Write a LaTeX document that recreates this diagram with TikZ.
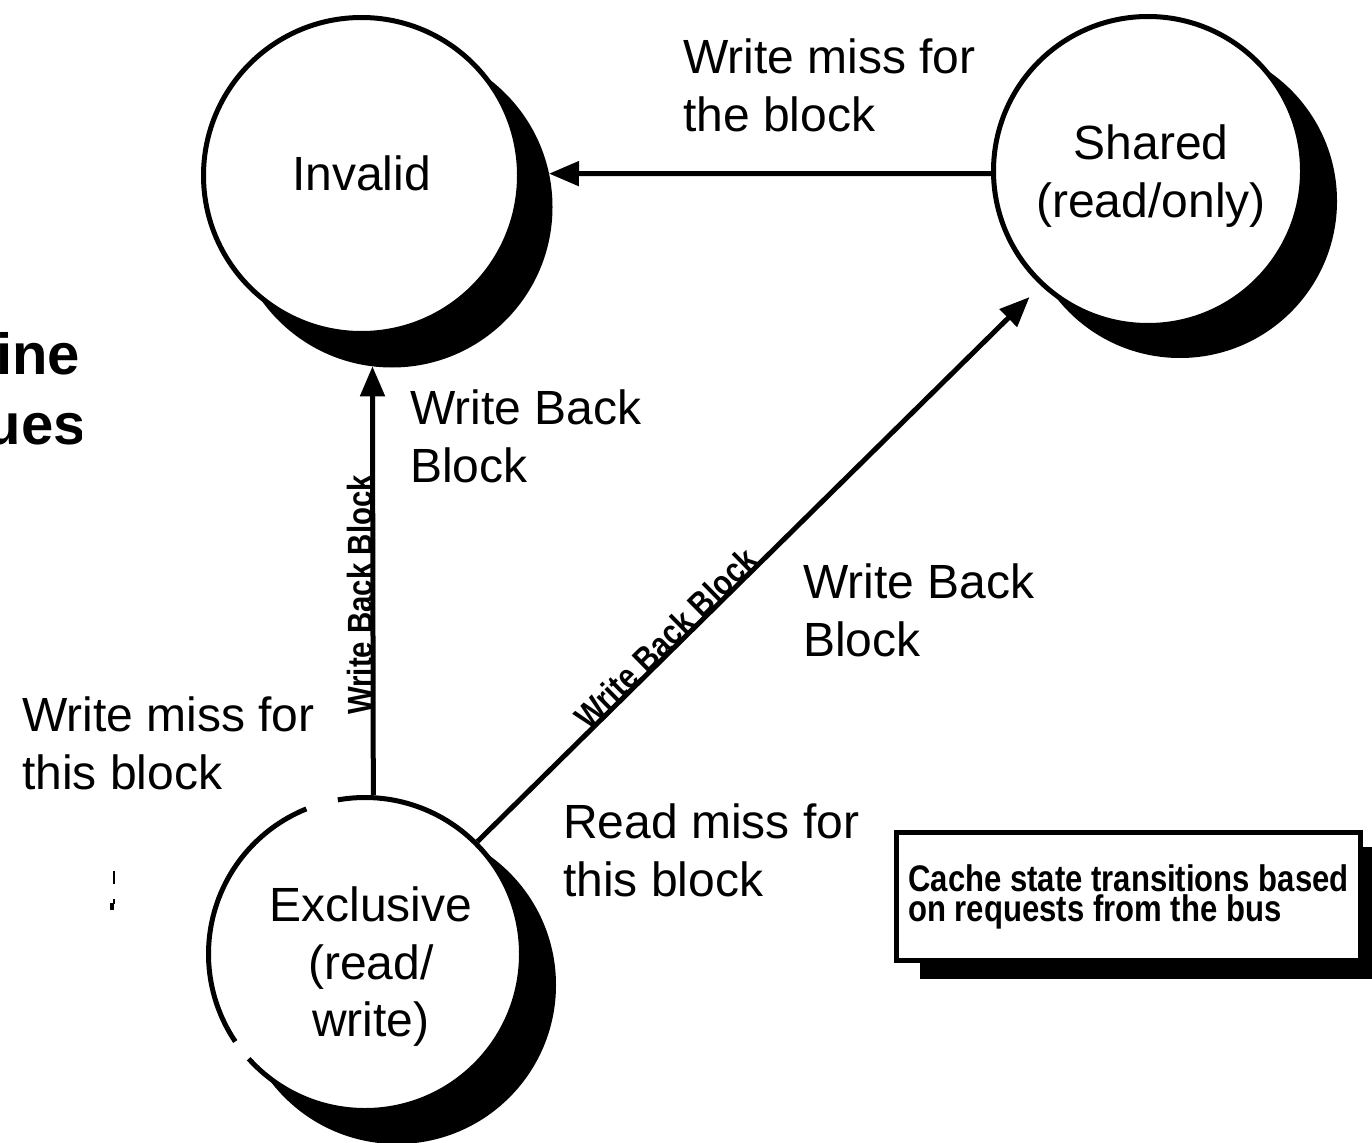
\documentclass[tikz,border=0pt]{standalone}
\usepackage{fontspec}
\setmainfont{Liberation Sans}
\newfontfamily\pixfont[FakeStretch=0.84]{Liberation Sans}
\usetikzlibrary{arrows.meta}
\begin{document}
\begin{tikzpicture}[x=1pt,y=-1pt,
  lab/.style={font=\fontsize{48}{57.5}\selectfont, inner sep=0pt, align=left, anchor=north west},
  shadowc/.style={circle, fill=black, draw=black, line width=5pt, inner sep=0pt},
  state/.style={circle, fill=white, draw=black, line width=5pt, inner sep=0pt},
  arr/.style={line width=5pt, -{Triangle[length=30pt,width=24pt]}},
  pix/.style={font=\pixfont\bfseries\fontsize{35}{30}\selectfont, inner sep=0pt},
  frag/.style={font=\bfseries\fontsize{58}{70}\selectfont, anchor=base east, inner sep=0pt}]
\useasboundingbox (0,0) rectangle (1372,1142);
\fill[white] (0,0) rectangle (1372,1142);

% cut-off title fragments at left
\begin{scope}
  \clip (0,300) rectangle (81,470);
  \node[frag] (f1) at (80,374) {ine};
  \node[frag] (f2) at (86,444) {ues};
\end{scope}
\draw[line width=1.5pt] (114,871) -- (114,884);
\draw[line width=1.2pt] (114,899) -- (114,904);
\fill (110,903) rectangle (114,910);

% states with shadows
\node[shadowc, minimum size=316pt] (invsh) at (392,207) {};
\node[state, minimum size=316pt] (inv) at (361.5,175.5) {};
\node[shadowc, minimum size=309pt] (shsh) at (1180,201) {};
\node[state, minimum size=309pt] (sh) at (1148,171) {};
\node[shadowc, minimum size=313pt] (exsh) at (397,985) {};
\node[circle, fill=white, inner sep=0pt, outer sep=2.5pt, minimum size=313pt] (ex) at (365,954) {};
\draw[line width=5pt] ([shift={(ex.center)}]-112:156.5) arc[start angle=-112, end angle=-214, radius=156.5];
\draw[line width=5pt] ([shift={(ex.center)}]-222:156.5) arc[start angle=-222, end angle=-460, radius=156.5];

% state labels
\node[font=\fontsize{48}{57.5}\selectfont, inner sep=0pt, anchor=base] (linv) at (361.5,190) {Invalid};
\node[lab, align=center, anchor=north] (lsh) at (1151,125) {Shared\\(read/only)};
\node[lab, align=center, anchor=north] (lex) at (371,887) {Exclusive\\(read/\\write)};

% transition labels
\node[lab] (l1) at (683,39) {Write miss for\\the block};
\node[lab] (l2) at (410,390) {Write Back\\Block};
\node[lab] (l3) at (803,564) {Write Back\\Block};
\node[lab] (l4) at (22,697) {Write miss for\\this block};
\node[lab] (l5) at (563,804) {Read miss for\\this block};

% transitions
\draw[arr] (ex.87.5) -- node[pix, rotate=90, anchor=base, pos=0.467] (vt) {Write Back Block} (invsh.263);
\draw[arr] (sh.181) -- (invsh.12);
\draw[arr, shorten >=16pt] (ex.45) -- node[pix, rotate=44.6, anchor=base, pos=0.35] (dt) {Write Back Block} (sh.227);

% legend box
\node[fill=black, inner sep=0pt, outer sep=0pt, minimum width=453pt, minimum height=132pt] (boxsh) at (1146.5,913) {};
\node[draw=black, fill=white, line width=5pt, minimum width=464pt, minimum height=128pt, inner sep=0pt,
      font=\pixfont\bfseries\fontsize{37}{30}\selectfont, align=left] (box) at (1128.5,896.5)
      {Cache state transitions based\\on requests from the bus};
\end{tikzpicture}
\end{document}
